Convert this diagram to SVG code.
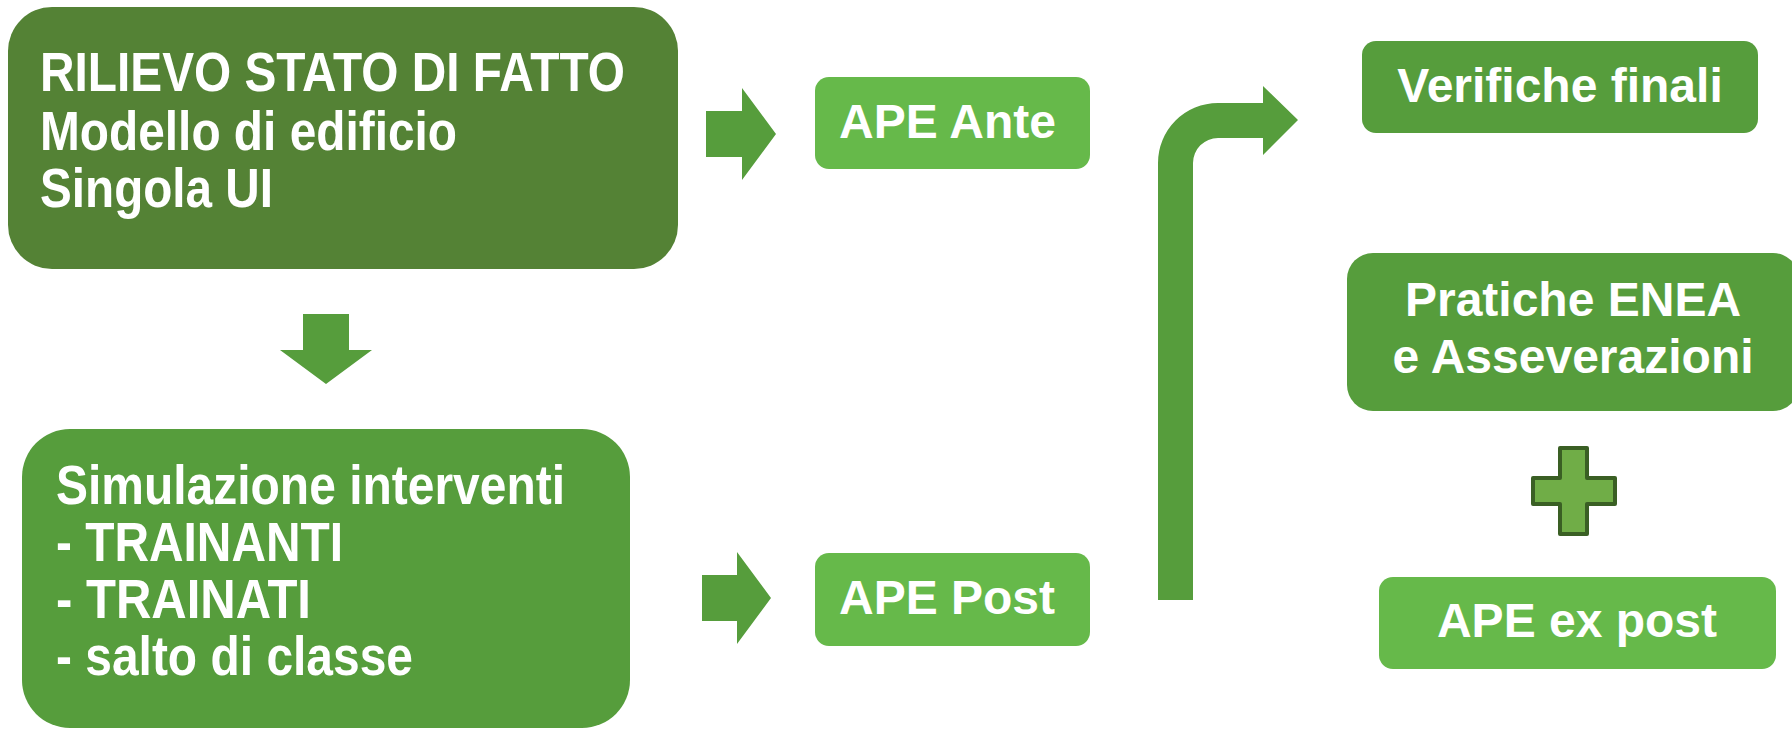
<svg xmlns="http://www.w3.org/2000/svg" width="1792" height="730" viewBox="0 0 1792 730">
<style>
.narrow{font-family:"Liberation Sans",Arial,sans-serif;font-weight:bold;font-size:55px;fill:#ffffff;}
.sans{font-family:"Liberation Sans",Arial,sans-serif;font-weight:bold;font-size:48px;fill:#ffffff;}
.mid{fill:#569D3C;}
.light{fill:#66B94A;}
.dark{fill:#548235;}
.arrow{fill:#569D3C;}
</style>
<rect width="1792" height="730" fill="#ffffff"/>
<g id="rilievo">
<rect class="dark" x="8" y="7" width="670" height="262" rx="44"/>
<text class="narrow" x="40" y="91" textLength="585" lengthAdjust="spacingAndGlyphs">RILIEVO STATO DI FATTO</text>
<text class="narrow" x="40" y="150" textLength="417" lengthAdjust="spacingAndGlyphs">Modello di edificio</text>
<text class="narrow" x="40" y="207" textLength="233" lengthAdjust="spacingAndGlyphs">Singola UI</text>
</g>
<g id="simulazione">
<rect class="mid" x="22" y="429" width="608" height="299" rx="48"/>
<text class="narrow" x="56" y="504" textLength="509" lengthAdjust="spacingAndGlyphs">Simulazione interventi</text>
<text class="narrow" x="56" y="561" textLength="287" lengthAdjust="spacingAndGlyphs">- TRAINANTI</text>
<text class="narrow" x="56" y="618" textLength="255" lengthAdjust="spacingAndGlyphs">- TRAINATI</text>
<text class="narrow" x="56" y="675" textLength="357" lengthAdjust="spacingAndGlyphs">- salto di classe</text>
</g>
<g id="ape-ante">
<rect class="light" x="815" y="77" width="275" height="92" rx="14"/>
<text class="sans" x="839" y="138">APE Ante</text>
</g>
<g id="ape-post">
<rect class="light" x="815" y="553" width="275" height="93" rx="14"/>
<text class="sans" x="839" y="614">APE Post</text>
</g>
<g id="verifiche">
<rect class="mid" x="1362" y="41" width="396" height="92" rx="14"/>
<text class="sans" x="1560" y="102" text-anchor="middle">Verifiche finali</text>
</g>
<g id="pratiche">
<rect class="mid" x="1347" y="253" width="452" height="158" rx="26"/>
<text class="sans" x="1573" y="316" text-anchor="middle">Pratiche ENEA</text>
<text class="sans" x="1573" y="373" text-anchor="middle">e Asseverazioni</text>
</g>
<g id="plus">
<path d="M1560,448 H1587 V478 H1615 V504 H1587 V534 H1560 V504 H1533 V478 H1560 Z" fill="#70AD47" stroke="#3A5F24" stroke-width="4" stroke-linejoin="round"/>
</g>
<g id="ape-ex-post">
<rect class="light" x="1379" y="577" width="397" height="92" rx="14"/>
<text class="sans" x="1577" y="637" text-anchor="middle">APE ex post</text>
</g>
<g id="connectors">
<path class="arrow" d="M303,314 H349 V350 H372 L326,384 L280,350 H303 Z"/>
<path class="arrow" d="M706,111 H742 V88 L776,134 L742,180 V157 H706 Z"/>
<path class="arrow" d="M702,575 H737 V552 L771,598 L737,644 V621 H702 Z"/>
<path class="arrow" d="M1158,600 V163 A60,60 0 0 1 1218,103 H1263 V86 L1298,120 L1263,155 V138 H1218 A25,25 0 0 0 1193,163 V600 Z"/>
</g>
</svg>
